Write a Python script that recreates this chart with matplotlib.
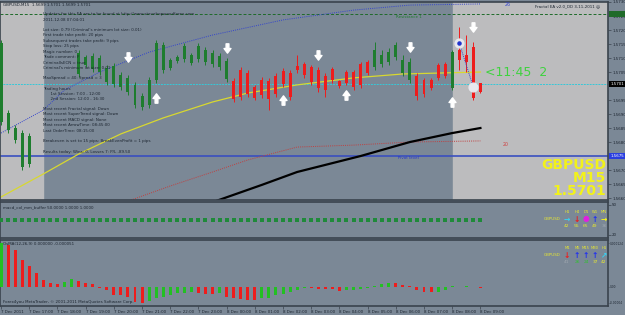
import numpy as np
import matplotlib.pyplot as plt
from matplotlib.path import Path

nan = np.nan
# GBPUSD M15, 7 Dec 16:00 .. 8 Dec 09:00 (bars 5-10 are not visible behind the comment block)
high = [1.57164, 1.56914, 1.56861, 1.56843, 1.56832, nan, nan, nan, nan, nan,
        nan, 1.57128, 1.57111, 1.57118, 1.57111, 1.57075, 1.57082, 1.57050, 1.57039, 1.57014,
        1.56975, 1.57032, 1.57164, 1.57157, 1.57100, 1.57111, 1.57153, 1.57118, 1.57153, 1.57139,
        1.57128, 1.57118, 1.57100, 1.57029, 1.57068, 1.57057, 1.57004, 1.57032, 1.57029, 1.57046,
        1.57064, 1.57057, 1.57111, 1.57086, 1.57075, 1.57068, 1.57046, 1.57068, 1.57021, 1.57057,
        1.57057, 1.57086, 1.57093, 1.57157, 1.57128, 1.57136, 1.57157, 1.57111, 1.57100, 1.57046,
        1.57029, 1.57029, 1.57082, 1.57086, 1.57128, 1.57211, 1.57182, 1.57157, 1.57011]
low = [1.56861, 1.56832, 1.56796, 1.56700, 1.56711, nan, nan, nan, nan, nan,
       nan, 1.57032, 1.57068, 1.57050, 1.57039, 1.57004, 1.56996, 1.56986, 1.56968, 1.56921,
       1.56914, 1.56921, 1.57011, 1.57046, 1.57057, 1.57082, 1.57086, 1.57075, 1.57086, 1.57075,
       1.57068, 1.57057, 1.57014, 1.56943, 1.56950, 1.56961, 1.56950, 1.56957, 1.56914, 1.56961,
       1.56996, 1.56950, 1.57046, 1.57029, 1.57004, 1.56979, 1.56961, 1.57011, 1.56993, 1.57004,
       1.56986, 1.56993, 1.57039, 1.57057, 1.57068, 1.57075, 1.57093, 1.57036, 1.57011, 1.56950,
       1.56961, 1.56986, 1.57021, 1.57029, 1.56986, 1.57057, 1.57050, 1.56950, 1.56975]
opn = [1.56871, 1.56843, 1.56807, 1.56711, 1.56722, nan, nan, nan, nan, nan,
       nan, 1.57043, 1.57075, 1.57061, 1.57050, 1.57014, 1.57007, 1.56996, 1.56979, 1.56932,
       1.56925, 1.56932, 1.57021, 1.57057, 1.57064, 1.57089, 1.57096, 1.57082, 1.57096, 1.57086,
       1.57079, 1.57068, 1.57025, 1.57018, 1.57057, 1.57046, 1.56996, 1.57021, 1.57018, 1.57036,
       1.57054, 1.57046, 1.57071, 1.57079, 1.57068, 1.57057, 1.57036, 1.57061, 1.57018, 1.57050,
       1.57050, 1.57079, 1.57086, 1.57068, 1.57079, 1.57086, 1.57103, 1.57046, 1.57021, 1.57036,
       1.57021, 1.57021, 1.57075, 1.57079, 1.56993, 1.57128, 1.57111, 1.57139, 1.57011]
close = [1.57153, 1.56904, 1.56850, 1.56832, 1.56821, nan, nan, nan, nan, nan,
         nan, 1.57118, 1.57103, 1.57107, 1.57100, 1.57064, 1.57071, 1.57039, 1.57029, 1.57004,
         1.56964, 1.57021, 1.57153, 1.57146, 1.57093, 1.57103, 1.57143, 1.57111, 1.57143, 1.57128,
         1.57118, 1.57107, 1.57089, 1.56954, 1.56961, 1.56971, 1.56957, 1.56968, 1.56954, 1.56971,
         1.57007, 1.56961, 1.57057, 1.57039, 1.57014, 1.56993, 1.56986, 1.57021, 1.57000, 1.57011,
         1.56996, 1.57004, 1.57046, 1.57128, 1.57111, 1.57121, 1.57146, 1.57093, 1.57086, 1.56964,
         1.56971, 1.56993, 1.57029, 1.57036, 1.57121, 1.57093, 1.57086, 1.56957, 1.56979]

# indicator lines (bar index, price)
band_x = [0, 6, 9, 14, 21, 30, 40, 50, 58, 68]
band_y = [1.56832, 1.56914, 1.56986, 1.57050, 1.57121, 1.57182, 1.57236, 1.57271, 1.57289, 1.57293]
ma_x = [0, 6, 11, 17, 23, 30, 35, 42, 50, 57, 68]
ma_y = [1.56604, 1.56686, 1.56757, 1.56829, 1.56886, 1.56943, 1.56975, 1.57004, 1.57029, 1.57043, 1.57050]
slow_x = [17, 24, 30, 35, 42, 50, 58, 68]
slow_y = [1.56580, 1.56643, 1.56693, 1.56736, 1.56782, 1.56789, 1.56800, 1.56804]
trend_x = [30, 37, 42, 51, 58, 64, 68]
trend_y = [1.56585, 1.56647, 1.56693, 1.56750, 1.56800, 1.56832, 1.56850]

resistance = 1.57257
bid = 1.57007
pivot = 1.56750

down_x = [18, 32, 45, 58, 67]
down_y = [1.57103, 1.57136, 1.57111, 1.57139, 1.57211]
up_x = [22, 40, 49, 64]
up_y = [1.56957, 1.56950, 1.56968, 1.56943]
trade_x = [65, 67]
trade_y = [1.57153, 1.56996]

# OsMA(12,26,9) in 1e-6
osma = [124, 118, 104, 76, 59, 39, 20, 11, 8, 14,
        23, 17, 11, 8, -3, -8, -23, -23, -28, -42,
        -45, -39, -31, -28, -23, -17, -17, -14, -17, -20,
        -20, -17, -28, -31, -34, -37, -37, -31, -31, -23,
        -20, -14, -8, -3, -3, -6, -6, -6, -11, -8,
        -8, -6, -3, 3, 8, 11, 11, 6, 3, -8,
        -14, -14, -14, -8, 3, 1, 3, -1, -3]
osma_col = list('grrrrrrrrgg' + 'rrrrrrrrrr' + 'ggggggg' + 'rrr' + 'g' + 'rrrrr' + 'ggggggg' +
                'rrrrr' + 'ggggggg' + 'rrrrrr' + 'ggggg' + 'rr')

time_labels = ['7 Dec 2011', '7 Dec 17:00', '7 Dec 18:00', '7 Dec 19:00', '7 Dec 20:00',
               '7 Dec 21:00', '7 Dec 22:00', '7 Dec 23:00', '8 Dec 00:00', '8 Dec 01:00',
               '8 Dec 02:00', '8 Dec 03:00', '8 Dec 04:00', '8 Dec 05:00', '8 Dec 06:00',
               '8 Dec 07:00', '8 Dec 08:00', '8 Dec 09:00']

info_lines = [
    (14, 'Updates for this EA are to be found at http://www.stevehopwoodforex.com'),
    (20, '2011.12.08 07:04:01'),
    (30, "Lot size: 0.79 (Criminal's minimum lot size: 0.01)"),
    (35, 'First trade take profit: 20 pips'),
    (41, 'Subsequent trades take profit: 9 pips'),
    (46, 'Stop loss: 25 pips'),
    (52, 'Magic number: 0'),
    (57, 'Trade comment: F'),
    (63, 'CriminalIsECN = true'),
    (68, "Criminal's minimum lot size: 0.01"),
    (78, 'MaxSpread = 40: Spread = 3'),
    (89, 'Trading hours'),
    (94, '      1st Session: 7:00 - 12:00'),
    (99, '      2nd Session: 12:00 - 16:30'),
    (109, 'Most recent Fractal signal: Down'),
    (114, 'Most recent SuperTrend signal: Down'),
    (120, 'Most recent MACD signal: None'),
    (125, 'Most recent ArrowTime: 08:45:00'),
    (131, 'Last OrderTime: 08:15:00'),
    (141, 'Breakeven is set to 15 pips: BreakEvenProfit = 1 pips'),
    (152, 'Results today: Wins: 0, Losses 7: P/L -89.50'),
]

W, H = 625, 315
BG = '#7b8896'
LIGHT = '#bcbcbe'
DARK = '#1c2530'
SPINE = '#3a434d'
FS = 2.9


def fx(x):
    return x / W


def fy(y):
    return 1 - y / H


idx = np.arange(len(high))
xlim = (-0.15, 86.1)

fig = plt.figure(figsize=(6.25, 3.15), dpi=100, facecolor=BG)
ax = fig.add_axes([0, fy(200), 608 / W, 198 / H], facecolor=BG)
ax1 = fig.add_axes([0, fy(238), 608 / W, 36 / H], facecolor=BG)
ax2 = fig.add_axes([0, fy(306), 608 / W, 66 / H], facecolor=BG)

for a in (ax, ax1, ax2):
    a.set_xlim(*xlim)
    for s in a.spines.values():
        s.set_color(SPINE)
        s.set_linewidth(1.2)
    a.yaxis.tick_right()
    a.tick_params(axis='y', length=2, width=0.5, pad=1, labelsize=FS, labelcolor=DARK, colors=SPINE)
    a.tick_params(axis='x', length=0, labelbottom=False)

# ---- main chart
ax.set_ylim(1.56593, 1.57300)
ax.axvspan(xlim[0], 5.95, color=LIGHT, zorder=0)
ax.axvspan(64.1, xlim[1], color=LIGHT, zorder=0)

ax.axhline(resistance, color='#1f6b2a', lw=0.7, ls=(0, (3, 2)), zorder=1)
ax.axhline(bid, color='#35c8d8', lw=0.7, ls=(0, (2, 1)), zorder=1)
ax.axhline(pivot, color='#3a4fc0', lw=1.2, zorder=1)

ax.plot(band_x, band_y, color='#3344cc', lw=0.7, ls=(0, (1, 1.2)), zorder=2)
ax.plot(ma_x, ma_y, color='#d8d830', lw=0.9, zorder=2)
ax.plot(slow_x, slow_y, color='#c04040', lw=0.7, ls=(0, (1, 1.2)), zorder=2)
ax.plot(trend_x, trend_y, color='black', lw=1.6, zorder=2)

o_arr, c_arr = np.array(opn), np.array(close)
cols = ['#1e7d2e' if c >= o else '#ee1c1c' for o, c in zip(o_arr, c_arr)]
ax.vlines(idx, low, high, colors=cols, lw=0.7, zorder=3)
ax.bar(idx, c_arr - o_arr, bottom=o_arr, width=0.42, color=cols, zorder=3)

down_arrow = Path([(-0.3, 1), (0.3, 1), (0.3, 0), (0.75, 0), (0, -1), (-0.75, 0), (-0.3, 0), (-0.3, 1)],
                  [Path.MOVETO] + [Path.LINETO] * 6 + [Path.CLOSEPOLY])
up_arrow = Path([(-0.3, -1), (0.3, -1), (0.3, 0), (0.75, 0), (0, 1), (-0.75, 0), (-0.3, 0), (-0.3, -1)],
                [Path.MOVETO] + [Path.LINETO] * 6 + [Path.CLOSEPOLY])
ax.scatter(down_x, down_y, marker=down_arrow, s=45, color='white', zorder=5)
ax.scatter(up_x, up_y, marker=up_arrow, s=45, color='white', zorder=5)

ax.plot(trade_x, trade_y, color='#3344cc', lw=0.7, ls=(0, (1, 1)), zorder=4)
ax.scatter(trade_x, trade_y, s=40, color='#e8e8ee', zorder=5)
ax.scatter(trade_x[:1], trade_y[:1], s=5, color='#2233cc', zorder=6)

ax.text(68.6, 1.57050, '<11:45  2', color='#3fd23f', fontsize=9, va='center', ha='left', zorder=6)
ax.text(56.0, resistance - 0.00010, 'Resistance 1', color='#1f7a2e', fontsize=FS, va='center')
ax.text(56.3, pivot - 0.00008, 'Pivot level', color='#2233cc', fontsize=FS, va='center')
ax.text(71.4, 1.57290, '26', color='#3344cc', fontsize=3.4, va='center')
ax.text(71.2, 1.56790, '20', color='#d04040', fontsize=3.4, va='center')

for y, s in info_lines:
    ax.text(6.0, ax.get_ylim()[1] - (y - 2) * 0.0000357, s, fontsize=FS, color=DARK, va='center')

ticks = [1.5730, 1.5725, 1.5720, 1.5715, 1.5710, 1.5705, 1.5695, 1.5690,
         1.5685, 1.5680, 1.5670, 1.5665, 1.5660]
ax.set_yticks(ticks)
ax.set_yticklabels([f'{t:.4f}' for t in ticks])
tr = ax.get_yaxis_transform()
for val, txt, bg, fg in [(resistance, '1.5726', '#1f6b2a', '#1f6b2a'), (bid, '1.5701', 'black', 'white'),
                         (pivot, '1.5675', '#2a3ee0', 'white')]:
    ax.text(1.004, val, txt, transform=tr, fontsize=FS, color=fg, va='center', ha='left',
            bbox=dict(boxstyle='square,pad=0.3', fc=bg, ec='none'), clip_on=False, zorder=6)

fig.text(fx(606), fy(165), 'GBPUSD', color='#f2f21a', fontsize=10, fontweight='bold', ha='right', va='center')
fig.text(fx(606), fy(178), 'M15', color='#f2f21a', fontsize=10, fontweight='bold', ha='right', va='center')
fig.text(fx(606), fy(191), '1.5701', color='#f2f21a', fontsize=10, fontweight='bold', ha='right', va='center')
fig.text(fx(3), fy(5), 'GBPUSD,M15  1.5699 1.5701 1.5699 1.5701', fontsize=FS, color=DARK, va='center')
fig.text(fx(600), fy(6), 'Fractal EA v2.0_DD 3-11-2011 \u263a', fontsize=FS, color=DARK, va='center', ha='right')

# ---- macd_col_mm_buffer
buffer_vals = [35.0] * len(idx)
ax1.set_ylim(17, 53)
ax1.scatter(idx, buffer_vals, marker='s', s=5, color='#1f8a3a', lw=0, zorder=3)
ax1.set_yticks([50, 20])
ax1.set_yticklabels(['50', '20'])
ax1.text(0.005, 0.86, 'macd_col_mm_buffer 50.0000 1.0000 1.0000', transform=ax1.transAxes,
         fontsize=FS, color=DARK, va='center')

# ---- OsMA
osma_arr = np.array(osma) * 1e-6
ax2.set_ylim(-53.6e-6, 132.5e-6)
ax2.bar(idx, osma_arr, width=0.42, color=['#22c022' if c == 'g' else '#ee1c1c' for c in osma_col], zorder=3)
ax2.set_yticks([124e-6, 0, -45e-6])
ax2.set_yticklabels(['0.000124', '0.00', '-0.00004'])
ax2.tick_params(axis='y', labelsize=2.1, length=1, pad=0.4)
ax2.text(0.005, 0.94, 'OsMA(12,26,9) 0.000000 -0.000051', transform=ax2.transAxes,
         fontsize=FS, color=DARK, va='center')
ax2.text(0.005, 0.06, 'Forex4you MetaTrader, \u00a9 2001-2011 MetaQuotes Software Corp.',
         transform=ax2.transAxes, fontsize=FS, color=DARK, va='center')
ax2.set_xticks(idx[::4])
ax2.set_xticklabels(time_labels, ha='left')
ax2.tick_params(axis='x', length=2, width=0.5, pad=1, labelsize=FS, labelcolor=DARK,
                colors=SPINE, labelbottom=True)

# MTF arrow tables
mtf = [
    (212, ['H1', 'H4', 'D1', 'W1', 'MN'],
     [('\u2192', '#3ad0f0'), ('\u2193', '#ee1c1c'), ('\u25cf', '#e020e0'), ('\u2191', '#2030f0'), ('\u2192', '#f2f21a')],
     [('42', '#e8e830'), ('55', '#e8e830'), ('65', '#e8e830'), ('49', '#e8e830'), ('36', '#a0a8b0')]),
    (248, ['M1', 'M5', 'M15', 'M30', 'H1'],
     [('\u2193', '#ee1c1c'), ('\u2191', '#2030f0'), ('\u2191', '#2030f0'), ('\u2191', '#2030f0'), ('\u2197', '#3ad0f0')],
     [('41', '#a0a8b0'), ('26', '#30c030'), ('24', '#30c030'), ('37', '#e8e830'), ('42', '#e8e830')]),
]
col_x = [567, 577, 586, 595, 604]
for y0, heads, arrows, nums in mtf:
    fig.text(fx(552), fy(y0 + 7), 'GBPUSD', fontsize=FS, color='#e8e830', ha='center', va='center')
    for cx, h, (a, ac), (n, nc) in zip(col_x, heads, arrows, nums):
        fig.text(fx(cx), fy(y0), h, fontsize=2.7, color='#e8e830', ha='center', va='center')
        fig.text(fx(cx), fy(y0 + 7), a, fontsize=5.5, color=ac, ha='center', va='center', fontweight='bold')
        fig.text(fx(cx), fy(y0 + 14), n, fontsize=3.2, color=nc, ha='center', va='center')

fig.savefig('out.png', dpi=100, facecolor=BG)
